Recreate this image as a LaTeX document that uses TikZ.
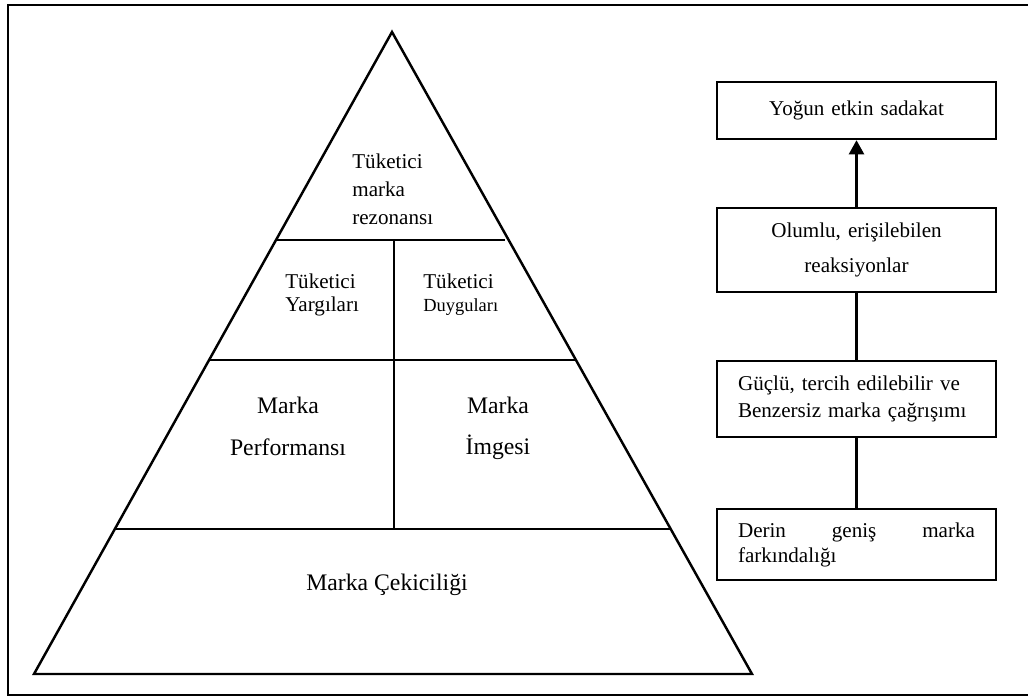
\documentclass[tikz,border=0pt]{standalone}
\usepackage{fontspec}
\setmainfont{Liberation Serif}
\usetikzlibrary{arrows.meta}
\begin{document}
\begin{tikzpicture}[x=0.02cm,y=-0.02cm,>={Triangle[length=8pt,width=8.5pt]},
  edge/.style={line width=1.4pt},
  lbl/.style={inner sep=0pt,anchor=west,align=left},
  big/.style={inner sep=0pt,align=center,font=\fontsize{13.5}{23.8}\selectfont},
  box/.style={draw,line width=1.4pt,text width=4.74cm,inner xsep=0.42cm,inner ysep=0pt,font=\fontsize{12}{14}\selectfont}]
\useasboundingbox (0,0) rectangle (1028,696);
\draw[line width=1.7pt] (1028,5) -- (8,5) -- (8,695) -- (1028,695);
\draw[edge] (392,32) -- (752,674) -- (34,674) -- cycle;
\draw[edge] (276,240) -- (332,240) (466,240) -- (505,240);
\draw[line width=0.6pt] (332,240) -- (466,240);
\draw[edge] (209,360) -- (576,360);
\draw[edge] (115,529) -- (670,529);
\draw[edge] (394,240) -- (394,529);
\node[lbl,font=\fontsize{12}{16.1}\selectfont] (reson) at (352,189.5) {Tüketici\\marka\\rezonansı};
\node[lbl,font=\fontsize{12}{13.6}\selectfont] (judg) at (285,295) {Tüketici\\Yargıları};
\node[lbl,font=\fontsize{12}{13}\selectfont] (feel) at (423,294.4) {Tüketici\\{\fontsize{10.5}{13}\selectfont Duyguları}};
\node[big] (perf) at (288,426) {Marka\\Performansı};
\node[big] (imge) at (498,428.4) {Marka\\İmgesi};
\node[big] (salience) at (387,584.5) {Marka Çekiciliği};
\node[box,align=center,minimum height=1.14cm] (loyal) at (856.5,110.5) {Yoğun etkin sadakat};
\node[box,align=center,minimum height=1.68cm,font=\fontsize{12}{19.9}\selectfont] (react) at (856.5,250) {Olumlu, erişilebilen\\reaksiyonlar};
\node[box,align=left,minimum height=1.52cm,font=\fontsize{12}{15.3}\selectfont] (assoc) at (856.5,399) {Güçlü, tercih edilebilir ve\\Benzersiz marka çağrışımı};
\node[box,align=left,minimum height=1.42cm,font=\fontsize{12}{14.2}\selectfont] (aware) at (856.5,544.5) {\makebox[4.74cm][l]{Derin\hfill geniş\hfill marka}\\farkındalığı};
\draw[edge,->] (react) -- (loyal);
\draw[edge] (react) -- (assoc);
\draw[edge] (assoc) -- (aware);
\end{tikzpicture}
\end{document}
